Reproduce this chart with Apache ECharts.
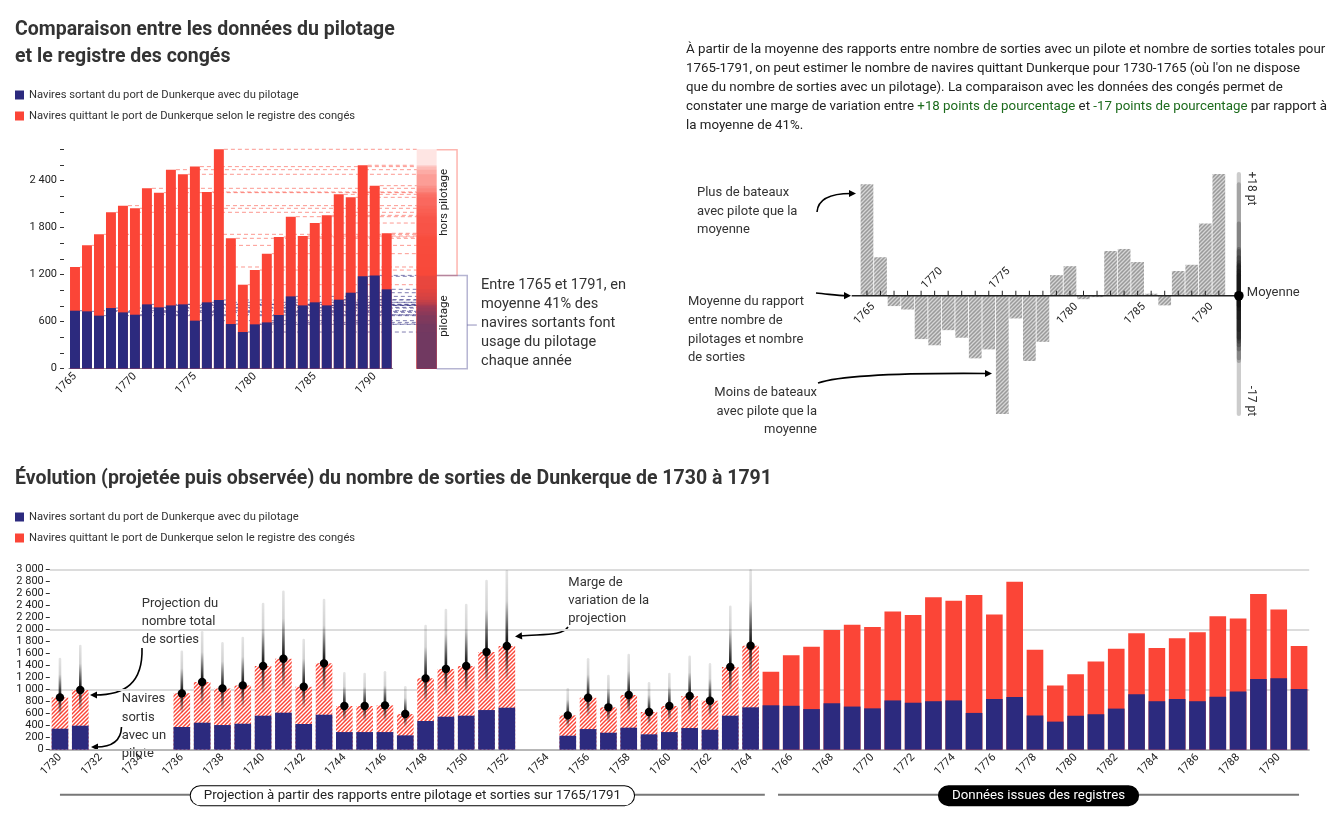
<!DOCTYPE html>
<html><head><meta charset="utf-8">
<script src="https://cdn.jsdelivr.net/npm/echarts@6/dist/echarts.min.js"></script>
<style>html,body{margin:0;padding:0;background:#fff}#c{width:1342px;height:831px}</style>
</head><body><div id="c"></div><script>
// ---------------- DATA ----------------
const regYears = [1765,1766,1767,1768,1769,1770,1771,1772,1773,1774,1775,1776,1777,1778,1779,1780,1781,1782,1783,1784,1785,1786,1787,1788,1789,1790,1791];
const regPilot = [740,732,677,774,719,689,821,783,808,821,613,847,877,570,468,566,591,685,923,808,847,808,881,970,1179,1191,1013];
const regTotal = [1298,1574,1715,1996,2081,2047,2302,2247,2540,2481,2579,2255,2800,1664,1072,1259,1468,1681,1940,1693,1859,1957,2225,2187,2596,2336,1728];
// écart au rapport moyen (points de pourcentage)
const deviation = [16.2,5.6,-1.5,-2.0,-6.3,-7.2,-5.0,-6.1,-9.1,-7.8,-17.2,-3.3,-9.5,-6.7,3.0,4.3,-0.5,-0.2,6.5,6.8,4.9,0.3,-1.4,3.6,4.5,10.5,17.7];
const projYears = [1730,1731,1732,1733,1734,1735,1736,1737,1738,1739,1740,1741,1742,1743,1744,1745,1746,1747,1748,1749,1750,1751,1752,1753,1754,1755,1756,1757,1758,1759,1760,1761,1762,1763,1764];
const projPilot = [350,400,null,null,null,null,378,450,411,433,567,617,428,583,294,294,294,239,478,550,567,661,700,null,null,233,344,283,367,256,294,361,333,567,706];
const projTotal = [872,994,null,null,null,null,939,1128,1022,1072,1394,1517,1050,1439,728,728,739,594,1189,1344,1394,1628,1728,null,null,572,867,706,911,628,728,894,817,1378,1733];
const projUpper = [1511,1728,null,null,null,null,1633,1956,1772,1861,2428,2633,1828,2494,1272,1261,1289,1039,2061,2328,2411,2811,2975,null,null,1006,1506,1228,1578,1106,1261,1550,1422,2383,2990];
const projLower = [593,678,null,null,null,null,641,763,697,734,961,1046,725,988,498,498,498,405,810,932,961,1120,1186,null,null,395,583,480,622,434,498,612,564,961,1197];
const yTicksTop = [0,600,1200,1800,2400];
const LEG_BLUE = 'Navires sortant du port de Dunkerque avec du pilotage';
const LEG_RED = 'Navires quittant le port de Dunkerque selon le registre des congés';
const GROUPS = ['Projection à partir des rapports entre pilotage et sorties sur 1765/1791', 'Données issues des registres'];

// ---------------- STYLE ----------------
const FONT = "Roboto, 'Noto Sans', sans-serif";
const RED = '#fb4537', BLUE = '#2c2a7e', TXT = '#333';
function hatch(bg, fg, w){
  const c = document.createElement('canvas'); c.width = 4; c.height = 4;
  const g = c.getContext('2d'); g.fillStyle = bg; g.fillRect(0,0,4,4);
  g.strokeStyle = fg; g.lineWidth = w; g.beginPath();
  g.moveTo(0,4); g.lineTo(4,0); g.moveTo(-1,1); g.lineTo(1,-1); g.moveTo(3,5); g.lineTo(5,3); g.stroke();
  return c;
}
const redHatch = {image: hatch(RED, '#ffffff', 1.4), repeat: 'repeat'};
const grayHatch = {image: hatch('#9a9a9a', 'rgba(255,255,255,0.6)', 1.3), repeat: 'repeat'};
const fmt = v => String(v).replace(/\B(?=(\d{3})+(?!\d))/g, ' ');

const allYears = projYears.concat(regYears);
const nP = projYears.length;
const nulls = n => new Array(n).fill(null);
const maxPilot = Math.max(...regPilot), maxTotal = Math.max(...regTotal);

function arrowEls(x1,y1,c1x,c1y,c2x,c2y,x2,y2){
  const a = Math.atan2(y2-c2y, x2-c2x);
  const tx = x2 + Math.cos(a)*5, ty = y2 + Math.sin(a)*5;
  const L = 7, W = 3.6;
  const bx = tx - Math.cos(a)*L, by = ty - Math.sin(a)*L;
  return [
    {type:'bezierCurve', shape:{x1,y1,cpx1:c1x,cpy1:c1y,cpx2:c2x,cpy2:c2y,x2,y2}, style:{stroke:'#000', lineWidth:1.6, fill:'none'}},
    {type:'polygon', shape:{points:[[tx,ty],[bx - Math.sin(a)*W, by + Math.cos(a)*W],[bx + Math.sin(a)*W, by - Math.cos(a)*W]]}, style:{fill:'#000'}}
  ];
}
function txt(x, y, text, size, opts){
  return {type:'text', style:Object.assign({x, y, text, fill:TXT, fontFamily:FONT, fontSize:size, lineHeight:Math.round(size*1.42), verticalAlign:'top', align:'left'}, opts||{})};
}

const chart = echarts.init(document.getElementById('c'));
const lbl = {fontFamily: FONT, fontSize: 11, color: '#222'};

const option = {
  animation: false,
  textStyle: {fontFamily: FONT},
  grid: [
    {left: 69, top: 149.3, width: 323.7, height: 219.4, outerBoundsMode: 'none'},
    {left: 860.2, top: 171.9, width: 365.4, height: 247.7, outerBoundsMode: 'none'},
    {left: 49.8, top: 569.7, width: 1259.4, height: 180, outerBoundsMode: 'none'}
  ],
  legend: [
    {left: 15, top: 88, orient: 'vertical', padding: 0, itemWidth: 9, itemHeight: 9, itemGap: 7, icon: 'rect', selectedMode: false,
     data: [LEG_BLUE, LEG_RED], itemStyle: {borderWidth: 0}, textStyle: {fontFamily: FONT, fontSize: 11.2, color: TXT, lineHeight: 14}},
    {left: 15, top: 510, orient: 'vertical', padding: 0, itemWidth: 9, itemHeight: 9, itemGap: 7, icon: 'rect', selectedMode: false,
     data: [LEG_BLUE, LEG_RED], itemStyle: {borderWidth: 0}, textStyle: {fontFamily: FONT, fontSize: 11.2, color: TXT, lineHeight: 14}}
  ],
  xAxis: [
    {gridIndex: 0, type: 'category', data: regYears, axisLine: {lineStyle: {color: '#888'}},
     axisTick: {alignWithLabel: true, interval: (i, v) => Number(v) % 5 === 0, length: 4, lineStyle: {color: '#555'}},
     axisLabel: Object.assign({interval: (i, v) => Number(v) % 5 === 0, rotate: 45, margin: 6}, lbl)},
    {gridIndex: 1, type: 'category', data: regYears, show: false},
    {gridIndex: 2, type: 'category', data: allYears, axisLine: {lineStyle: {color: '#aaa', width: 1.5}},
     axisTick: {alignWithLabel: true, interval: (i, v) => Number(v) % 2 === 0, length: 5, lineStyle: {color: '#444'}},
     axisLabel: Object.assign({interval: (i, v) => Number(v) % 2 === 0, rotate: 45, margin: 6}, lbl)}
  ],
  yAxis: [
    {gridIndex: 0, type: 'value', min: 0, max: 2800, interval: 200, offset: 5, axisLine: {show: false},
     axisTick: {show: true, length: 4, lineStyle: {color: '#333'}}, splitLine: {show: false},
     axisLabel: Object.assign({margin: 7, formatter: v => yTicksTop.includes(v) ? fmt(v) : ''}, lbl)},
    {gridIndex: 1, type: 'value', min: -18, max: 18, show: false},
    {gridIndex: 2, type: 'value', min: 0, max: 3000, interval: 200, axisLine: {show: false},
     axisTick: {show: true, length: 4, lineStyle: {color: '#333'}}, splitLine: {show: false},
     axisLabel: Object.assign({margin: 6, formatter: v => fmt(v)}, lbl)},
    {gridIndex: 2, type: 'value', min: 0, max: 3000, interval: 1000, position: 'left', axisLine: {show: false},
     axisTick: {show: false}, axisLabel: {show: false}, splitLine: {show: true, lineStyle: {color: '#dcdcdc', width: 2}}}
  ],
  series: [
    // ---- top-left ----
    {type: 'bar', name: LEG_RED, xAxisIndex: 0, yAxisIndex: 0, data: regTotal, barCategoryGap: '17%', barGap: '-100%', z: 3,
     itemStyle: {color: RED}},
    {type: 'bar', name: LEG_BLUE, xAxisIndex: 0, yAxisIndex: 0, data: regPilot, barCategoryGap: '17%', barGap: '-100%', z: 3,
     itemStyle: {color: BLUE}},
    {type: 'custom', xAxisIndex: 0, yAxisIndex: 0, z: 1, silent: true,
     data: regYears.map((y, i) => [i, regTotal[i], regPilot[i]]),
     renderItem: (p, api) => {
       const i = api.value(0), bw = api.size([1, 0])[0];
       const x0 = api.coord([i, 0])[0] + bw * 0.42;
       const xe = api.coord([regYears.length - 1, 0])[0] + bw * 2.5;
       const yT = api.coord([i, api.value(1)])[1], yP = api.coord([i, api.value(2)])[1];
       return {type: 'group', children: [
         {type: 'line', shape: {x1: x0, y1: yT, x2: xe, y2: yT}, style: {stroke: 'rgba(250,70,55,0.55)', lineWidth: 1, lineDash: [4, 3]}},
         {type: 'line', shape: {x1: x0, y1: yP, x2: xe, y2: yP}, style: {stroke: 'rgba(45,42,126,0.6)', lineWidth: 1, lineDash: [4, 3]}}
       ]};
     }},
    {type: 'custom', xAxisIndex: 0, yAxisIndex: 0, z: 2, silent: true, clip: false,
     data: regYears.map((y, i) => [i, regTotal[i]]),
     renderItem: (p, api) => {
       const bw = api.size([1, 0])[0];
       const xl = api.coord([regYears.length - 1, 0])[0] + bw * 2.5;
       const y0 = api.coord([0, 0])[1], y1 = api.coord([0, api.value(1)])[1];
       return {type: 'rect', shape: {x: xl, y: y1, width: bw * 1.667, height: y0 - y1}, style: {fill: 'rgba(250,70,55,0.14)'}};
     }},
    {type: 'custom', xAxisIndex: 0, yAxisIndex: 0, z: 2, silent: true, clip: false,
     data: regYears.map((y, i) => [i, regPilot[i]]),
     renderItem: (p, api) => {
       const bw = api.size([1, 0])[0];
       const xl = api.coord([regYears.length - 1, 0])[0] + bw * 2.5;
       const y0 = api.coord([0, 0])[1], y1 = api.coord([0, api.value(1)])[1];
       return {type: 'rect', shape: {x: xl, y: y1, width: bw * 1.667, height: y0 - y1}, style: {fill: 'rgba(45,42,126,0.04)'}};
     }},
    {type: 'custom', xAxisIndex: 0, yAxisIndex: 0, z: 2, silent: true, clip: false,
     data: [[regYears.length - 1, maxPilot, maxTotal]],
     renderItem: (p, api) => {
       const bw = api.size([1, 0])[0];
       const xr = api.coord([regYears.length - 1, 0])[0] + bw * 2.5 + bw * 1.667;
       const y0 = api.coord([0, 0])[1], yP = api.coord([0, api.value(1)])[1], yT = api.coord([0, api.value(2)])[1];
       const b1 = xr + bw * 1.7, b2 = xr + bw * 2.55;
       return {type: 'group', children: [
         {type: 'polyline', shape: {points: [[xr, yT + 0.5], [b1, yT + 0.5], [b1, yP], [xr, yP]]}, style: {stroke: 'rgba(250,70,55,0.4)', lineWidth: 1.5, fill: 'none'}},
         {type: 'polyline', shape: {points: [[xr, yP], [b2, yP], [b2, y0], [xr, y0]]}, style: {stroke: 'rgba(45,42,126,0.35)', lineWidth: 1.5, fill: 'none'}},
         {type: 'line', shape: {x1: b2, y1: (yP + y0) / 2 + 3, x2: b2 + bw * 0.8, y2: (yP + y0) / 2 + 3}, style: {stroke: 'rgba(45,42,126,0.35)', lineWidth: 1.5}},
         {type: 'text', x: xr + 7.5, y: (yT + yP) / 2 - 10, rotation: Math.PI / 2, style: {text: 'hors pilotage', fill: '#222', fontFamily: FONT, fontSize: 11.5, align: 'center', verticalAlign: 'middle'}},
         {type: 'text', x: xr + 7.5, y: (yP + y0) / 2 - 6, rotation: Math.PI / 2, style: {text: 'pilotage', fill: '#222', fontFamily: FONT, fontSize: 11.5, align: 'center', verticalAlign: 'middle'}}
       ]};
     }},
    // ---- top-right ----
    {type: 'bar', xAxisIndex: 1, yAxisIndex: 1, data: deviation, barCategoryGap: '6%', itemStyle: {color: grayHatch}, silent: true},
    {type: 'custom', xAxisIndex: 1, yAxisIndex: 1, z: 3, silent: true, clip: false,
     data: regYears.map((y, i) => [i, deviation[i]]),
     renderItem: (p, api) => {
       const bw = api.size([1, 0])[0];
       const xc = api.coord([regYears.length - 1, 0])[0] + bw * 1.48;
       const y0 = api.coord([0, 0])[1], y1 = api.coord([0, api.value(1)])[1];
       return {type: 'rect', shape: {x: xc - 2.15, y: Math.min(y0, y1) - 2, width: 4.3, height: Math.abs(y1 - y0) + 4, r: 2.15}, style: {fill: 'rgba(0,0,0,0.2)'}};
     }},
    {type: 'custom', xAxisIndex: 1, yAxisIndex: 1, z: 4, silent: true, clip: false,
     data: [[0, 0]],
     renderItem: (p, api) => {
       const bw = api.size([1, 0])[0];
       const x0 = api.coord([0, 0])[0] - bw * 1.13;
       const xc = api.coord([regYears.length - 1, 0])[0] + bw * 1.48;
       const y0 = api.coord([0, 0])[1];
       return {type: 'group', children: [
         {type: 'line', shape: {x1: x0, y1: y0, x2: xc, y2: y0}, style: {stroke: '#222', lineWidth: 1.6}},
         {type: 'circle', shape: {cx: xc, cy: y0, r: 4.8}, style: {fill: '#000'}},
         {type: 'text', x: xc + 8, y: y0 - 3, style: {text: 'Moyenne', fill: TXT, fontFamily: FONT, fontSize: 13, align: 'left', verticalAlign: 'middle'}},
         {type: 'text', x: xc + 12, y: api.coord([0, 15.6])[1], rotation: -Math.PI / 2, style: {text: '+18 pt', fill: TXT, fontFamily: FONT, fontSize: 12, align: 'center', verticalAlign: 'middle'}},
         {type: 'text', x: xc + 12, y: api.coord([0, -15.3])[1], rotation: -Math.PI / 2, style: {text: '-17 pt', fill: TXT, fontFamily: FONT, fontSize: 12, align: 'center', verticalAlign: 'middle'}}
       ]};
     }},
    // year ticks and labels on the mean line (label on the side opposite to the bar)
    {type: 'custom', xAxisIndex: 1, yAxisIndex: 1, z: 5, silent: true, clip: false,
     data: regYears.map((y, i) => [i, deviation[i], y]),
     renderItem: (p, api) => {
       const i = api.value(0), x = api.coord([i, 0])[0], y0 = api.coord([i, 0])[1];
       const yr = api.value(2), d = api.value(1);
       const ch = [{type: 'line', shape: {x1: x, y1: y0 - 5, x2: x, y2: y0}, style: {stroke: '#222', lineWidth: 1}}];
       if (yr % 5 === 0) ch.push({type: 'text', x: x - 2.5, y: d >= 0 ? y0 + 18 : y0 - 17.5, rotation: Math.PI / 4,
         style: {text: String(yr), fill: '#222', fontFamily: FONT, fontSize: 11, align: 'center', verticalAlign: 'middle'}});
       return {type: 'group', children: ch};
     }},
    // ---- bottom ----
    {type: 'bar', name: LEG_RED, xAxisIndex: 2, yAxisIndex: 2, data: nulls(nP).concat(regTotal), barCategoryGap: '18%', barGap: '-100%',
     itemStyle: {color: RED}},
    {type: 'bar', name: 'Projection', xAxisIndex: 2, yAxisIndex: 2, data: projTotal.concat(nulls(regYears.length)), barCategoryGap: '18%', barGap: '-100%',
     itemStyle: {color: redHatch}},
    {type: 'bar', name: LEG_BLUE, xAxisIndex: 2, yAxisIndex: 2, data: projPilot.concat(regPilot), barCategoryGap: '18%', barGap: '-100%',
     itemStyle: {color: BLUE}},
    {type: 'custom', xAxisIndex: 2, yAxisIndex: 2, z: 5, silent: true, clip: false,
     data: projYears.map((y, i) => projTotal[i] == null ? null : [i, projLower[i], projTotal[i], projUpper[i]]).filter(Boolean),
     renderItem: (p, api) => {
       const i = api.value(0), x = api.coord([i, 0])[0];
       const yL = api.coord([i, api.value(1)])[1], yP = api.coord([i, api.value(2)])[1], yU = api.coord([i, api.value(3)])[1];
       const G = echarts.graphic.LinearGradient;
       return {type: 'group', children: [
         {type: 'line', shape: {x1: x, y1: yU, x2: x, y2: yL}, style: {stroke: 'rgba(0,0,0,0.11)', lineWidth: 2.6, lineCap: 'round'}},
         {type: 'line', shape: {x1: x, y1: yU, x2: x, y2: yP}, style: {lineWidth: 2.6,
           stroke: new G(x, yU, x, yP, [{offset: 0, color: 'rgba(0,0,0,0)'}, {offset: 0.4, color: 'rgba(0,0,0,0.08)'}, {offset: 1, color: 'rgba(0,0,0,1)'}], true)}},
         {type: 'line', shape: {x1: x, y1: yP, x2: x, y2: yL}, style: {lineWidth: 2.6,
           stroke: new G(x, yP, x, yL, [{offset: 0, color: 'rgba(0,0,0,0.9)'}, {offset: 1, color: 'rgba(0,0,0,0)'}], true)}},
         {type: 'circle', shape: {cx: x, cy: yP, r: 4.2}, style: {fill: '#000'}}
       ]};
     }},
    {type: 'custom', xAxisIndex: 2, yAxisIndex: 2, z: 5, silent: true, clip: false,
     data: [[0, nP - 1], [nP, allYears.length - 1]],
     renderItem: (p, api) => {
       const k = p.dataIndex, bw = api.size([1, 0])[0];
       const y = api.coord([0, 0])[1] + 45;
       let x1 = api.coord([api.value(0), 0])[0], x2 = api.coord([api.value(1), 0])[0];
       if (k === 0) x2 += bw * 0.7; else x1 += bw * 0.35;
       return {type: 'group', children: [
         {type: 'line', shape: {x1, y1: y, x2, y2: y}, style: {stroke: '#777', lineWidth: 2}},
         {type: 'text', x: (x1 + x2) / 2, y: y + 1, style: {text: GROUPS[k], align: 'center', verticalAlign: 'middle', fontFamily: FONT, fontSize: 13.3,
           fill: k ? '#fff' : '#222', backgroundColor: k ? '#000' : '#fff', borderColor: '#000', borderWidth: 1, borderRadius: 10, padding: [3, 13]}}
       ]};
     }}
  ],
  graphic: [
    txt(15, 16.5, 'Comparaison entre les données du pilotage\net le registre des congés', 19.5, {fontWeight: 'bold', fill: '#333', lineHeight: 27}),
    txt(15, 465.5, 'Évolution (projetée puis observée) du nombre de sorties de Dunkerque de 1730 à 1791', 19.5, {fontWeight: 'bold', fill: '#333', lineHeight: 27}),
    txt(686, 40.5, 'À partir de la moyenne des rapports entre nombre de sorties avec un pilote et nombre de sorties totales pour\n1765-1791, on peut estimer le nombre de navires quittant Dunkerque pour 1730-1765 (où l\'on ne dispose\nque du nombre de sorties avec un pilotage). La comparaison avec les données des congés permet de\nconstater une marge de variation entre {g|+18 points de pourcentage} et {g|-17 points de pourcentage} par rapport à\nla moyenne de 41%.', 13.3,
      {lineHeight: 19, fill: '#222', rich: {g: {fill: '#1c6b1c', fontFamily: FONT, fontSize: 13.3, lineHeight: 19}}}),
    txt(481, 275.5, 'Entre 1765 et 1791, en\nmoyenne 41% des\nnavires sortants font\nusage du pilotage\nchaque année', 14.6, {lineHeight: 19}),
    txt(697, 183.5, 'Plus de bateaux\navec pilote que la\nmoyenne', 13, {lineHeight: 18.5}),
    txt(688, 292.5, 'Moyenne du rapport\nentre nombre de\npilotages et nombre\nde sorties', 13, {lineHeight: 18.7}),
    txt(817, 383.5, 'Moins de bateaux\navec pilote que la\nmoyenne', 13, {lineHeight: 18.5, align: 'right'}),
    txt(141.7, 594.3, 'Projection du\nnombre total\nde sorties', 13, {lineHeight: 18.3}),
    txt(121.7, 690, 'Navires\nsortis\navec un\npilote', 13, {lineHeight: 18.3}),
    txt(568.3, 573.7, 'Marge de\nvariation de la\nprojection', 13, {lineHeight: 18}),
    ...arrowEls(817, 212, 818, 198, 832, 193.5, 851, 193.5),
    ...arrowEls(816, 293, 828, 294, 838, 295.7, 846, 295.7),
    ...arrowEls(818, 383, 845, 374, 920, 373, 987, 373.5),
    ...arrowEls(142, 648, 143, 683, 125, 695, 95, 695),
    ...arrowEls(121.5, 727, 121, 742, 110, 747, 96, 747),
    ...arrowEls(568, 627, 562, 636, 545, 634, 520, 636)
  ]
};
chart.setOption(option);
</script></body></html>
